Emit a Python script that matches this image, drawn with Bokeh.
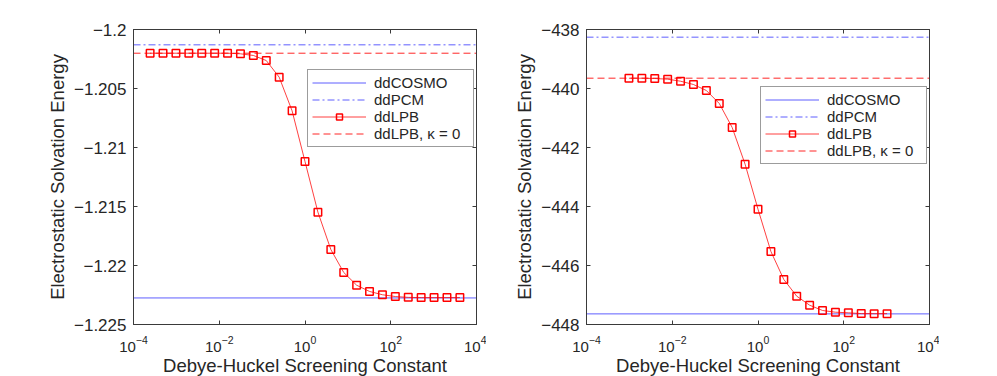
from bokeh.plotting import figure
from bokeh.models import (LogAxis, LinearAxis, FixedTicker, Legend, LegendItem,
                          CustomJSTickFormatter, Range1d, LogTickFormatter)
from bokeh.layouts import row
from bokeh.embed import file_html
from bokeh.resources import INLINE

# ---------------- data ----------------
x_limits = [1e-4, 1e4]
x_ticks = [1e-4, 1e-2, 1, 1e2, 1e4]

left_kappa = [0.000244140625, 0.00048828125, 0.0009765625, 0.001953125, 0.00390625,
              0.0078125, 0.015625, 0.03125, 0.0625, 0.125, 0.25, 0.5, 1, 2, 4, 8,
              16, 32, 64, 128, 256, 512, 1024, 2048, 4096]
left_lpb = [-1.20201, -1.20201, -1.20201, -1.20201, -1.20201, -1.20201, -1.20201,
            -1.20206, -1.20220, -1.20263, -1.20404, -1.20689, -1.21119, -1.21548,
            -1.21864, -1.22059, -1.22167, -1.22220, -1.22248, -1.22263, -1.22270,
            -1.22272, -1.22272, -1.22272, -1.22272]
left_cosmo = -1.22275
left_pcm = -1.20130
left_lpb0 = -1.20201
left_ylim = [-1.225, -1.2]
left_yticks = [-1.225, -1.22, -1.215, -1.21, -1.205, -1.2]

right_kappa = [0.0009765625, 0.001953125, 0.00390625, 0.0078125, 0.015625, 0.03125,
               0.0625, 0.125, 0.25, 0.5, 1, 2, 4, 8, 16, 32, 64, 128, 256, 512, 1024]
right_lpb = [-439.651, -439.651, -439.661, -439.685, -439.753, -439.864, -440.068,
             -440.508, -441.322, -442.566, -444.092, -445.525, -446.475, -447.040,
             -447.346, -447.525, -447.583, -447.603, -447.630, -447.632, -447.632]
right_cosmo = -447.64
right_pcm = -438.26
right_lpb0 = -439.65
right_ylim = [-448, -438]
right_yticks = [-448, -446, -444, -442, -440, -438]

labels = ["ddCOSMO", "ddPCM", "ddLPB", "ddLPB, \u03ba = 0"]

# ---------------- style ----------------
AX = "#3a3a3a"
TXT = "#262626"
FONT = "Liberation Sans"
BLUE = "#2a2aff"
RED = "#ff0000"

EMPTY = "return '';"


def make_panel(kappa, lpb, cosmo, pcm, lpb0, ylim, yticks, border_left, leg_loc, show_ylabel):
    p = figure(x_axis_type="log", x_range=Range1d(*x_limits), y_range=Range1d(*ylim),
               frame_width=343, frame_height=295, output_backend="svg",
               toolbar_location=None, min_border_left=border_left, min_border_right=10,
               min_border_top=29, min_border_bottom=10)
    p.grid.visible = False
    p.outline_line_color = AX
    p.outline_line_width = 1
    p.background_fill_color = "white"

    xa = p.below[0]
    xa.ticker = FixedTicker(ticks=x_ticks, minor_ticks=[])
    xa.formatter = LogTickFormatter()
    xa.axis_label = "Debye-Huckel Screening Constant"
    ya = p.left[0]
    ya.ticker = FixedTicker(ticks=yticks, minor_ticks=[])
    ya.formatter = CustomJSTickFormatter(code="return tick.toString().replace('-', '\u2212');")
    if show_ylabel:
        ya.axis_label = "Electrostatic Solvation Energy"
    for a in (xa, ya):
        a.axis_line_color = AX
        a.major_tick_line_color = AX
        a.major_tick_in = 4
        a.major_tick_out = 0
        a.minor_tick_in = 0
        a.minor_tick_out = 0
        a.major_label_text_font = FONT
        a.major_label_text_color = TXT
        a.axis_label_text_font = FONT
        a.axis_label_text_font_style = "normal"
        a.axis_label_text_color = TXT
    xa.major_label_text_font_size = "15px"
    ya.major_label_text_font_size = "17px"
    xa.axis_label_text_font_size = "18.5px"
    ya.axis_label_text_font_size = "18.5px"
    xa.major_label_standoff = 11
    xa.axis_label_standoff = 0
    ya.major_label_standoff = 7
    ya.axis_label_standoff = 3

    top = LogAxis(ticker=FixedTicker(ticks=x_ticks, minor_ticks=[]),
                  formatter=CustomJSTickFormatter(code=EMPTY), major_label_standoff=0,
                  major_tick_in=4, major_tick_out=0, minor_tick_in=0, minor_tick_out=0,
                  axis_line_color=AX, major_tick_line_color=AX)
    p.add_layout(top, "above")
    right = LinearAxis(ticker=FixedTicker(ticks=yticks, minor_ticks=[]),
                       formatter=CustomJSTickFormatter(code=EMPTY), major_label_standoff=0,
                       major_tick_in=4, major_tick_out=0, minor_tick_in=0, minor_tick_out=0,
                       axis_line_color=AX, major_tick_line_color=AX)
    p.add_layout(right, "right")

    r_cosmo = p.line(x_limits, [cosmo, cosmo], line_color=BLUE, line_width=1, line_alpha=0.75)
    r_pcm = p.line(x_limits, [pcm, pcm], line_color=BLUE, line_width=1, line_alpha=0.75,
                   line_dash="7 3 2 3")
    r_lpb0 = p.line(x_limits, [lpb0, lpb0], line_color=RED, line_width=1, line_alpha=0.85,
                    line_dash="7 4")
    r_lpb = p.line(kappa, lpb, line_color=RED, line_width=1, line_alpha=0.75)
    r_mk = p.scatter(kappa, lpb, marker="square", size=7.5, line_color=RED, line_width=1.5,
                     fill_color=None)

    legend = Legend(items=[LegendItem(label=labels[0], renderers=[r_cosmo]),
                           LegendItem(label=labels[1], renderers=[r_pcm]),
                           LegendItem(label=labels[2], renderers=[r_lpb, r_mk]),
                           LegendItem(label=labels[3], renderers=[r_lpb0])],
                    location=leg_loc, orientation="vertical",
                    label_text_font=FONT, label_text_font_size="15px", label_text_color=TXT,
                    label_text_line_height=1.0,
                    glyph_width=54, glyph_height=15, label_height=15, label_width=95,
                    label_standoff=8, spacing=0, padding=4, margin=0,
                    border_line_color=AX, border_line_width=1,
                    background_fill_color="white", background_fill_alpha=1)
    p.add_layout(legend)
    return p


p1 = make_panel(left_kappa, left_lpb, left_cosmo, left_pcm, left_lpb0, left_ylim,
                left_yticks, 133, (174, 177), True)
p2 = make_panel(right_kappa, right_lpb, right_cosmo, right_pcm, right_lpb0, right_ylim,
                right_yticks, 100, (174, 160), True)

layout = row(p1, p2)
open("out.html", "w").write(file_html(layout, INLINE))
